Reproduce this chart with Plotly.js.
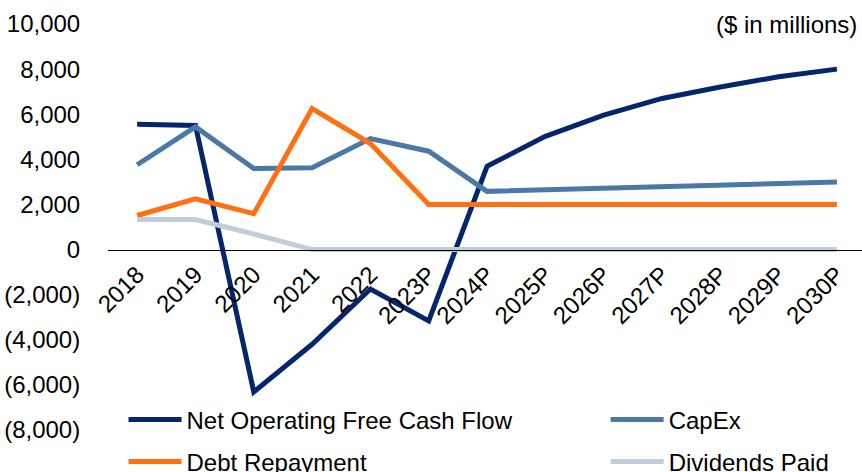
<!DOCTYPE html>
<html>
<head>
<meta charset="utf-8">
<script src="https://cdn.plot.ly/plotly-3.0.1.min.js"></script>
<style>
  html, body { margin: 0; padding: 0; background: #fff; }
  #chart { width: 862px; height: 472px; }
</style>
</head>
<body>
<div id="chart"></div>
<script>
// years on the x axis
var years = ["2018", "2019", "2020", "2021", "2022", "2023P", "2024P",
    "2025P", "2026P", "2027P", "2028P", "2029P", "2030P"];

// $ in millions
var netOpFcf = [5560, 5500, -6310, -4200, -1750, -3160, 3690,
    5020, 5960, 6700, 7210, 7660, 8000];
var capex = [3760, 5440, 3590, 3630, 4920, 4360, 2580,
    2650, 2720, 2790, 2850, 2920, 2990];
var debtRepay = [1510, 2250, 1590, 6250, 4700, 2000, 2000,
    2000, 2000, 2000, 2000, 2000, 2000];
var dividends = [1330, 1330, 690, 0, 0, 0, 0,
    0, 0, 0, 0, 0, 0];

var yTicks = [-8000, -6000, -4000, -2000, 0, 2000, 4000, 6000, 8000, 10000];
var yTickText = ["(8,000)", "(6,000)", "(4,000)", "(2,000)", "0",
    "2,000", "4,000", "6,000", "8,000", "10,000"];

function line(name, y, color, legendId){
    return {
        x: years,
        y: y,
        name: name,
        type: "scatter",
        mode: "lines",
        line: {color: color, width: 5},
        legend: legendId
    };
}

var traces = [
    line("Net Operating Free Cash Flow", netOpFcf, "#05256c", "legend"),
    line("CapEx", capex, "#4a79a5", "legend2"),
    line("Debt Repayment", debtRepay, "#ff7012", "legend3"),
    line("Dividends Paid", dividends, "#c3cdda", "legend4")
];

var font = {family: "Liberation Sans, Arial, sans-serif", size: 24, color: "#000"};

// one legend box per entry so the 2x2 grid sits where the original has it
function legendAt(x, y){
    return {
        orientation: "h",
        font: font,
        itemwidth: 53,
        xanchor: "left",
        yanchor: "middle",
        x: x,
        y: y,
        bgcolor: "rgba(0,0,0,0)"
    };
}

var layout = {
    width: 862,
    height: 472,
    margin: {l: 108, r: 0, t: 24, b: 42, autoexpand: false},
    paper_bgcolor: "#fff",
    plot_bgcolor: "#fff",
    font: font,
    showlegend: true,
    legend: legendAt(0.0206, 0.0246),
    legend2: legendAt(0.66, 0.0246),
    legend3: legendAt(0.0206, -0.0788),
    legend4: legendAt(0.66, -0.0788),
    xaxis: {
        type: "category",
        range: [-0.5, 12.43],
        anchor: "free",
        position: 8000 / 18000,
        showline: true,
        linecolor: "#000",
        linewidth: 1.5,
        showgrid: false,
        zeroline: false,
        ticks: "",
        tickangle: -45,
        tickfont: font,
        fixedrange: true
    },
    yaxis: {
        range: [-8000, 10000],
        tickvals: yTicks,
        ticktext: yTickText,
        showgrid: false,
        zeroline: false,
        showline: false,
        ticks: "outside",
        ticklen: 22,
        tickcolor: "rgba(0,0,0,0)",
        tickfont: font,
        fixedrange: true
    },
    annotations: [{
        text: "($ in millions)",
        xref: "paper", yref: "paper",
        x: 0.996, y: 1.0,
        xanchor: "right", yanchor: "middle",
        showarrow: false,
        font: font
    }]
};

Plotly.newPlot("chart", traces, layout, {displayModeBar: false, staticPlot: true});
</script>
</body>
</html>
